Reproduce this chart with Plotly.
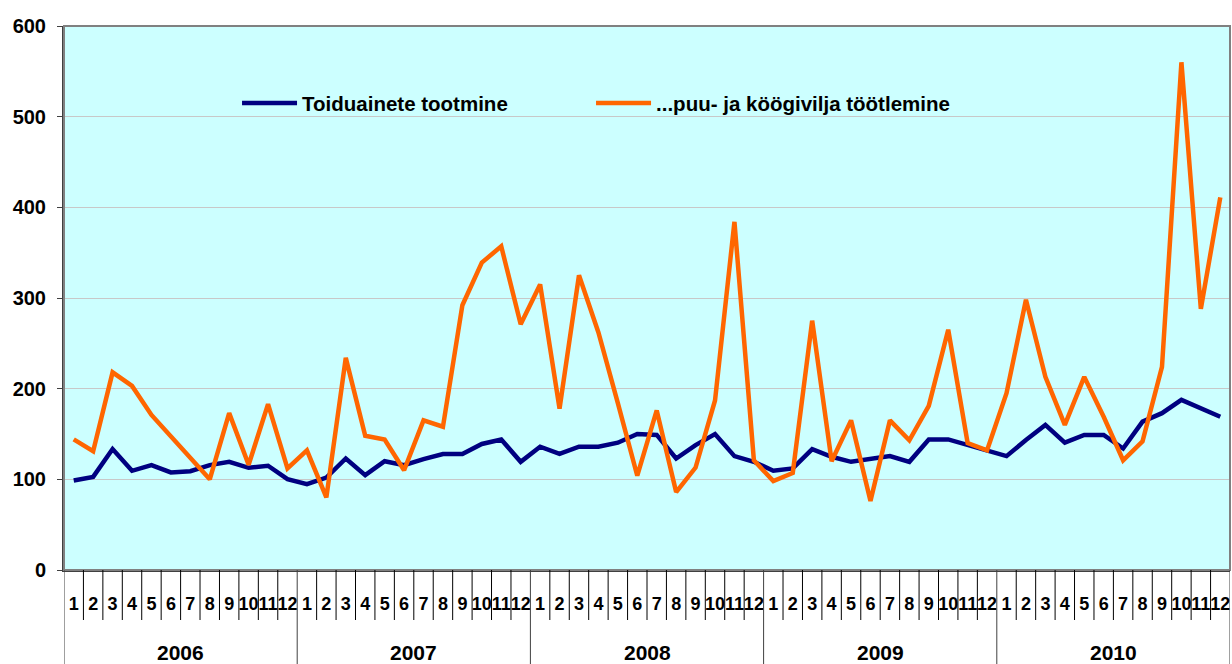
import plotly.graph_objects as go

years = ["2006", "2007", "2008", "2009", "2010"]
months = [str(m) for m in range(1, 13)]

toiduainete = [
    98.7, 102.7, 133.4, 109.4, 115.7, 107.6, 109.0, 115.7, 119.3, 112.7, 115.0, 100.2,
    94.6, 102.0, 123.0, 104.6, 120.0, 115.7, 122.3, 127.9, 128.0, 139.0, 144.0, 119.3,
    136.0, 128.0, 136.0, 136.0, 140.4, 150.0, 149.0, 123.0, 137.8, 150.0, 125.6, 119.3,
    109.4, 112.0, 133.4, 124.9, 119.3, 122.0, 125.6, 119.3, 144.0, 144.0, 138.0, 132.0,
    125.6, 143.4, 160.0, 140.4, 149.0, 149.0, 134.0, 163.6, 173.0, 187.6, 178.5, 169.0,
]
puu_koogivili = [
    144, 131, 218, 203, 171, 147, 123, 100, 173, 116, 183, 112,
    132, 80, 234, 148, 144, 110, 165, 158, 292, 339, 357, 271,
    315, 178, 325, 262, 184, 104, 176, 86, 113, 187, 384, 121,
    98, 107, 275, 120, 165, 76, 165, 143, 181, 265, 140, 132,
    195, 298, 213, 160, 213, 169, 121, 142, 224, 560, 288, 411,
]

name1 = "Toiduainete tootmine"
name2 = "...puu- ja köögivilja töötlemine"

n = len(years) * len(months)
x_idx = list(range(n))
month_labels = [m for _ in years for m in months]

FONT = "Liberation Sans, Arial, sans-serif"

fig = go.Figure()
fig.add_trace(go.Scatter(x=x_idx, y=toiduainete, mode="lines", name=name1,
                         line=dict(color="#000080", width=4.5), legend="legend"))
fig.add_trace(go.Scatter(x=x_idx, y=puu_koogivili, mode="lines", name=name2,
                         line=dict(color="#FF6600", width=4.5), legend="legend2"))

shapes = []
# plot frame
shapes.append(dict(type="rect", xref="paper", yref="paper", x0=0, x1=1, y0=0, y1=1,
                   line=dict(color="#808080", width=2), layer="above"))
# hide gridline behind legend box
shapes.append(dict(type="rect", xref="paper", yref="y", x0=0.1106, x1=0.788, y0=485, y1=545,
                   fillcolor="#CCFFFF", line=dict(width=0), layer="between"))
# separators below the axis
nm = len(months)
for k in range(0, n + 1):
    is_year = (k % nm == 0)
    shapes.append(dict(type="line", xref="x", yref="paper", x0=k - 0.5, x1=k - 0.5,
                       ysizemode="pixel", yanchor=0, y0=0, y1=(-94 if is_year else -50),
                       line=dict(color="#000000" if not is_year else "#404040", width=1)))

annotations = []
for i, yr in enumerate(years):
    annotations.append(dict(text=yr, xref="x", yref="paper", x=i * nm + (nm - 1) / 2, y=0,
                            yanchor="middle", yshift=-82, showarrow=False,
                            font=dict(size=21, weight="bold", family=FONT, color="black")))

leg_common = dict(orientation="h", y=0.858, xanchor="left", yanchor="middle",
                  bgcolor="rgba(0,0,0,0)", font=dict(size=20.5, weight="bold", family=FONT),
                  itemwidth=55)

fig.update_layout(
    width=1232, height=664,
    margin=dict(l=64, r=2, t=26, b=94),
    paper_bgcolor="white",
    plot_bgcolor="#CCFFFF",
    font=dict(family=FONT, color="black"),
    showlegend=True,
    legend=dict(x=0.1484, **leg_common),
    legend2=dict(x=0.452, **leg_common),
    shapes=shapes,
    annotations=annotations,
    xaxis=dict(
        range=[-0.5, n - 0.5],
        tickmode="array", tickvals=x_idx, ticktext=month_labels, tickangle=0,
        showgrid=False, zeroline=False, automargin=False,
        showline=True, linecolor="#404040", linewidth=2,
        ticks="outside", ticklen=16, tickcolor="rgba(0,0,0,0)",
        tickfont=dict(size=18, weight="bold", family=FONT),
    ),
    yaxis=dict(
        range=[0, 600], dtick=100, automargin=False,
        showgrid=True, gridcolor="#C8C8C8", gridwidth=1,
        showline=True, linecolor="#404040", linewidth=2,
        ticks="outside", ticklen=5, tickcolor="#404040", ticklabelstandoff=7,
        tickfont=dict(size=20, weight="bold", family=FONT),
        zeroline=False,
    ),
)

# remove the default page margin so the figure fills the window exactly
fig.write_html("out.html",
               config={"displayModeBar": False},
               post_script="document.body.style.margin='0';"
                           "document.documentElement.style.overflow='hidden';")
